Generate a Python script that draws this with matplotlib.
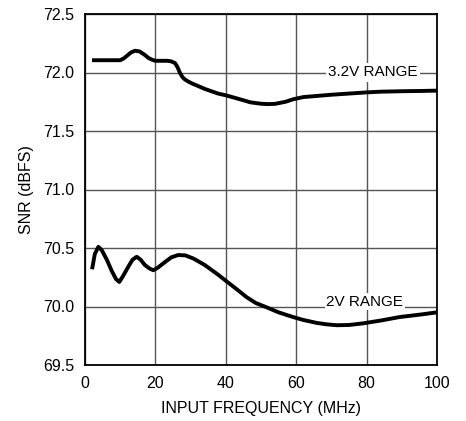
import matplotlib
matplotlib.use("Agg")
import matplotlib.pyplot as plt
from matplotlib import font_manager

names = {f.name for f in font_manager.fontManager.ttflist}
fam = [n for n in ["Liberation Sans Narrow", "Liberation Sans", "DejaVu Sans"] if n in names]
plt.rcParams['font.family'] = fam

x_32 = [2, 6, 10, 11, 12, 13, 14.2, 15.5, 17, 18, 19, 20, 21.5, 23.5, 24.5, 25.6, 26.3, 27, 27.7, 28.4, 29.5, 30.5, 31.7, 34, 37.8, 40, 43, 47, 50, 52, 54, 57, 59, 62, 66, 70, 75, 80, 84, 90, 95, 100]
y_32 = [72.105, 72.105, 72.105, 72.12, 72.145, 72.17, 72.186, 72.18, 72.15, 72.125, 72.11, 72.10, 72.10, 72.10, 72.095, 72.08, 72.045, 71.995, 71.96, 71.94, 71.92, 71.905, 71.89, 71.86, 71.82, 71.805, 71.78, 71.745, 71.733, 71.73, 71.732, 71.75, 71.77, 71.79, 71.80, 71.81, 71.82, 71.83, 71.836, 71.84, 71.842, 71.845]

x_2 = [2, 2.8, 3.8, 4.8, 6.2, 7.5, 8.8, 9.75, 10.8, 12.3, 13.5, 14.7, 15.8, 17, 18.3, 19.4, 20.6, 22.3, 24.5, 26.5, 28.5, 30.8, 34, 37.9, 40, 43, 45.9, 48.5, 51.6, 55, 59.1, 62, 65.8, 68.5, 71.5, 75, 79, 84, 89.4, 95, 100]
y_2 = [70.318, 70.45, 70.51, 70.48, 70.40, 70.31, 70.235, 70.21, 70.26, 70.34, 70.40, 70.425, 70.40, 70.355, 70.325, 70.31, 70.33, 70.37, 70.42, 70.44, 70.437, 70.41, 70.355, 70.27, 70.22, 70.15, 70.08, 70.03, 69.993, 69.95, 69.91, 69.885, 69.86, 69.848, 69.84, 69.842, 69.856, 69.88, 69.91, 69.93, 69.95]

x_ticks = [0, 20, 40, 60, 80, 100]
y_ticks = [69.5, 70.0, 70.5, 71.0, 71.5, 72.0, 72.5]
labels = ["3.2V RANGE", "2V RANGE"]

fig = plt.figure(figsize=(4.66, 4.21), dpi=100)
ax = fig.add_axes([85/466, 1-365/421, (437-85)/466, (365-14)/421])
ax.set_xlim(0, 100)
ax.set_ylim(69.5, 72.5)
ax.set_xticks(x_ticks)
ax.set_yticks(y_ticks)
ax.set_yticklabels([f"{v:.1f}" for v in y_ticks])
ax.grid(True, color="#555555", linewidth=1.0)
ax.set_axisbelow(True)
ax.tick_params(length=0, labelsize=11.5, pad=8)
for s in ax.spines.values():
    s.set_linewidth(1.3)
    s.set_color("black")

ax.plot(x_32, y_32, color="black", linewidth=2.8, solid_capstyle="butt", solid_joinstyle="round")
ax.plot(x_2, y_2, color="black", linewidth=2.8, solid_capstyle="butt", solid_joinstyle="round")

ax.text(81.8, 72.0, labels[0], ha="center", va="center", fontsize=11,
        bbox=dict(facecolor="white", edgecolor="none", pad=1.5))
ax.text(79.5, 70.04, labels[1], ha="center", va="center", fontsize=11,
        bbox=dict(facecolor="white", edgecolor="none", pad=1.0))

ax.set_xlabel("INPUT FREQUENCY (MHz)", fontsize=11.5, labelpad=7)
ax.set_ylabel("SNR (dBFS)", fontsize=11.5, labelpad=6)

fig.savefig("out.png", dpi=100)
